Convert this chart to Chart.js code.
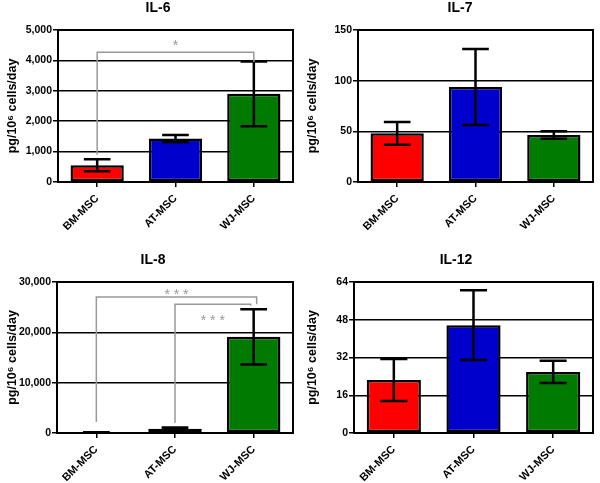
<!DOCTYPE html>
<html>
<head>
<meta charset="utf-8">
<script src="https://cdn.jsdelivr.net/npm/chart.js@4"></script>
<style>
  body { margin: 0; background: #fff; width: 600px; height: 483px; position: relative; overflow: hidden; }
  canvas { position: absolute; }
</style>
</head>
<body>
<canvas id="c6" width="300" height="240" style="left:0;top:0"></canvas>
<canvas id="c7" width="300" height="240" style="left:300px;top:0"></canvas>
<canvas id="c8" width="300" height="243" style="left:0;top:240px"></canvas>
<canvas id="c12" width="300" height="243" style="left:300px;top:240px"></canvas>
<script>
// Datos
const categories = ['BM-MSC', 'AT-MSC', 'WJ-MSC'];

const il6Mean = [550, 1430, 2900];
const il6Sd = [200, 120, 1065];
const il7Mean = [48, 93.7, 46.5];
const il7Sd = [11.3, 37.5, 3.7];
const il8Mean = [100, 850, 19100];
const il8Sd = [50, 250, 5500];
const il12Mean = [22.5, 45.7, 25.9];
const il12Sd = [8.9, 14.8, 4.7];

// ejes: mínimo, máximo y paso de las marcas
const il6Ticks = [0, 5000, 1000];
const il7Ticks = [0, 150, 50];
const il8Ticks = [0, 30000, 10000];
const il12Ticks = [0, 64, 16];

// corchetes de significancia: [desde, hasta, nivel, pie izq., pie der., nivel texto, texto]
const il6Brackets = [[0, 2, 4270, 900, 3950, 4600, '*']];
const il8Brackets = [
  [0, 2, 27000, 2200, 25600, 28300, '* * *'],
  [1, 2, 25600, 2000, 25300, 23000, '* * *']
];

const barColors = ['#ff0000', '#0000cc', '#007a00'];
const FONT = '"Liberation Sans", Arial, sans-serif';

// Plugin para barras de error, corchetes, marco y título
const extrasPlugin = {
  id: 'extras',
  afterDatasetsDraw(chart, args, opts) {
    const ctx = chart.ctx;
    const y = chart.scales.y;
    const area = chart.chartArea;
    const meta = chart.getDatasetMeta(0);
    const ds = chart.data.datasets[0];

    ctx.save();
    // marco
    ctx.strokeStyle = '#000';
    ctx.lineWidth = 2;
    ctx.strokeRect(area.left, area.top, area.right - area.left, area.bottom - area.top);

    // barras de error
    ctx.lineWidth = 2.5;
    meta.data.forEach((bar, i) => {
      const m = ds.data[i], s = ds.errors[i];
      const top = y.getPixelForValue(m + s);
      const bot = y.getPixelForValue(Math.max(m - s, 0));
      const hw = bar.width / 4;
      ctx.beginPath();
      ctx.moveTo(bar.x, top); ctx.lineTo(bar.x, bot);
      ctx.moveTo(bar.x - hw, top); ctx.lineTo(bar.x + hw, top);
      ctx.moveTo(bar.x - hw, bot); ctx.lineTo(bar.x + hw, bot);
      ctx.stroke();
    });

    // corchetes
    (opts.brackets || []).forEach((b, k) => {
      const shift = (opts.shifts || [])[k] || [0, 0];
      const x0 = meta.data[b[0]].x + shift[0];
      const x1 = meta.data[b[1]].x + shift[1];
      const yt = y.getPixelForValue(b[2]);
      ctx.strokeStyle = '#999';
      ctx.lineWidth = 1.5;
      ctx.beginPath();
      ctx.moveTo(x0, y.getPixelForValue(b[3]));
      ctx.lineTo(x0, yt);
      ctx.lineTo(x1, yt);
      ctx.lineTo(x1, y.getPixelForValue(b[4]));
      ctx.stroke();
      ctx.fillStyle = '#999';
      ctx.font = '14px ' + FONT;
      ctx.textAlign = 'center';
      ctx.textBaseline = 'alphabetic';
      ctx.fillText(b[6], (x0 + x1) / 2, y.getPixelForValue(b[5]) + 8);
    });

    // título del panel
    ctx.fillStyle = '#000';
    ctx.font = 'bold 14px ' + FONT;
    ctx.textAlign = 'center';
    ctx.textBaseline = 'middle';
    ctx.fillText(opts.title, opts.titleX, opts.titleY);
    ctx.restore();
  }
};

function makePanel(id, title, means, sds, ticks, brackets, geo) {
  return new Chart(document.getElementById(id), {
    type: 'bar',
    data: {
      labels: categories,
      datasets: [{
        data: means,
        errors: sds,
        backgroundColor: barColors,
        borderColor: '#000',
        borderWidth: 2.5,
        borderSkipped: false,
        categoryPercentage: 1,
        barPercentage: 0.68
      }]
    },
    options: {
      responsive: false,
      animation: false,
      layout: { padding: { top: geo.top, right: geo.right, left: 0, bottom: 0 } },
      plugins: {
        legend: { display: false },
        tooltip: { enabled: false },
        extras: {
          title: title, titleX: geo.titleX, titleY: geo.titleY,
          brackets: brackets, shifts: geo.shifts
        }
      },
      scales: {
        x: {
          grid: { display: true, drawOnChartArea: false, offset: false, tickLength: 5, color: '#000', lineWidth: 1.5 },
          border: { color: '#000', width: 2 },
          ticks: { font: { family: FONT, size: 11, weight: 'bold' }, color: '#000', minRotation: 45, maxRotation: 45, padding: 5, autoSkip: false },
          afterFit: s => { s.height = geo.xh; }
        },
        y: {
          min: ticks[0], max: ticks[1],
          grid: { color: '#000', lineWidth: 1.5, tickLength: 5 },
          border: { color: '#000', width: 2 },
          ticks: { stepSize: ticks[2], font: { family: FONT, size: 10.5, weight: 'bold' }, color: '#000', padding: 1 },
          title: { display: true, text: 'pg/10⁶ cells/day', color: '#000', font: { family: FONT, size: 12.5, weight: 'bold' }, padding: { top: 5, bottom: 0 } },
          afterFit: s => { s.width = geo.yw; }
        }
      }
    },
    plugins: [extrasPlugin]
  });
}

makePanel('c6', 'IL-6', il6Mean, il6Sd, il6Ticks, il6Brackets,
  { top: 30, right: 7, yw: 58, xh: 58, titleX: 158, titleY: 8.5 });
makePanel('c7', 'IL-7', il7Mean, il7Sd, il7Ticks, [],
  { top: 30, right: 7, yw: 58, xh: 58, titleX: 160, titleY: 8.5 });
makePanel('c8', 'IL-8', il8Mean, il8Sd, il8Ticks, il8Brackets,
  { top: 42, right: 7, yw: 57, xh: 50, titleX: 153, titleY: 20, shifts: [[0, 3], [0, -3]] });
makePanel('c12', 'IL-12', il12Mean, il12Sd, il12Ticks, [],
  { top: 42, right: 7, yw: 54, xh: 50, titleX: 156, titleY: 20 });
</script>
</body>
</html>
